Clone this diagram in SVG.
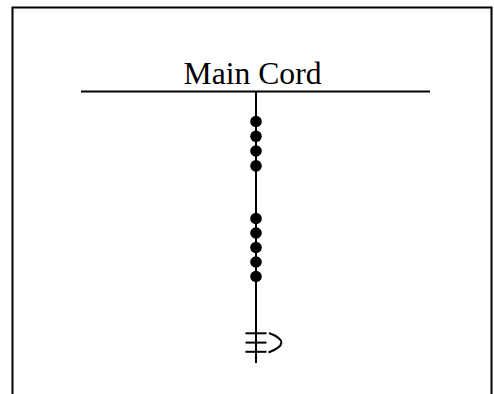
<svg xmlns="http://www.w3.org/2000/svg" width="494" height="394" viewBox="0 0 494 394">
<style>
.ln{stroke:#000;stroke-width:2;fill:none}
.bead{fill:#000}
.lbl{font-family:"Liberation Serif","Times New Roman",serif;font-size:31.5px;fill:#000}
</style>
<rect width="494" height="394" fill="#fff"/>
<g id="frame">
<path class="ln" d="M12.5,394 V7.5 H491.5 V394"/>
</g>
<g id="main-cord">
<line class="ln" x1="81" y1="91.5" x2="430" y2="91.5"/>
<text class="lbl" x="252.5" y="83.5" text-anchor="middle" textLength="138" lengthAdjust="spacingAndGlyphs">Main Cord</text>
</g>
<g id="connectors">
<line class="ln" x1="256" y1="91.5" x2="256" y2="363"/>
</g>
<g id="knots-upper">
<circle class="bead" cx="256" cy="121.5" r="5.8"/>
<circle class="bead" cx="256" cy="136.3" r="5.8"/>
<circle class="bead" cx="256" cy="151" r="5.8"/>
<circle class="bead" cx="256" cy="165.8" r="5.8"/>
</g>
<g id="knots-lower">
<circle class="bead" cx="256" cy="218.5" r="5.8"/>
<circle class="bead" cx="256" cy="233" r="5.8"/>
<circle class="bead" cx="256" cy="247.5" r="5.8"/>
<circle class="bead" cx="256" cy="262" r="5.8"/>
<circle class="bead" cx="256" cy="276.5" r="5.8"/>
</g>
<g id="long-knot">
<line class="ln" x1="245.5" y1="333.3" x2="266.5" y2="333.3"/>
<line class="ln" x1="245.5" y1="342.6" x2="266.5" y2="342.6"/>
<line class="ln" x1="245.5" y1="351.8" x2="266.5" y2="351.8"/>
<path class="ln" d="M269,333 Q294,342.5 268.5,352.5"/>
</g>
</svg>
